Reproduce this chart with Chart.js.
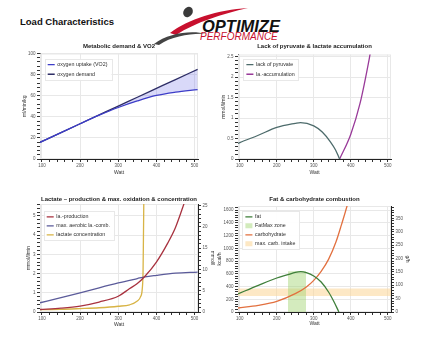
<!DOCTYPE html>
<html>
<head>
<meta charset="utf-8">
<script src="https://cdn.jsdelivr.net/npm/chart.js@4.4.0/dist/chart.umd.min.js"></script>
<style>
  body { margin: 0; background: #fff; width: 435px; height: 343px; overflow: hidden; position: relative; font-family: "Liberation Sans", Arial, sans-serif; }
  canvas { position: absolute; }
  #head { position: absolute; left: 20px; top: 16px; font-weight: bold; font-size: 9.5px; color: #111; }
  #logo { position: absolute; left: 150px; top: 0; }
</style>
</head>
<body>
<div id="head">Load Characteristics</div>
<svg id="logo" width="140" height="46" viewBox="0 0 140 46">
  <ellipse cx="38" cy="12" rx="4.5" ry="5.5" transform="rotate(35 38 12)" fill="#3a3a3a"/>
  <path d="M20,33 C38,19 68,10 98,8 C72,14 46,22 26,35 Z" fill="#c8102e"/>
  <path d="M4,44 C18,33 42,30 56,34 C42,33 22,36 9,45 Z" fill="#444"/>
  <text x="52" y="32" font-family="Liberation Sans" font-weight="bold" font-style="italic" font-size="16.5" fill="#111">OPTIMIZE</text>
  <text x="50" y="39.5" font-family="Liberation Sans" font-style="italic" font-size="10" fill="#c8102e">PERFORMANCE</text>
</svg>
<canvas id="c1" width="215" height="145" style="left:0;top:40px"></canvas>
<canvas id="c2" width="235" height="145" style="left:200px;top:40px"></canvas>
<canvas id="c3" width="225" height="145" style="left:0;top:190px"></canvas>
<canvas id="c4" width="235" height="145" style="left:200px;top:190px"></canvas>
<script>
// shared x range (Watt)
const wattRange = [95, 509];

// Metabolic demand & VO2
const vo2Watt = [95, 150, 200, 250, 300, 350, 400, 450, 508];
const vo2Uptake = [15.8, 25, 33.4, 41.5, 48.8, 55, 60.2, 63.3, 65.8];
const o2Demand = [15.8, 25, 33.4, 41.8, 50.2, 58.5, 66.9, 75.3, 85];

// Lack of pyruvate & lactate accumulation
const pyrWatt = [95, 100, 150, 200, 250, 264, 300, 323, 345, 359, 368, 370];
const pyrLack = [0.38, 0.4, 0.58, 0.77, 0.87, 0.89, 0.81, 0.66, 0.42, 0.22, 0.04, 0];
const accWatt = [370, 400, 425, 450, 456];
const laAccum = [0, 0.6, 1.35, 2.44, 2.75];

// Lactate production / combustion / concentration
const prodWatt = [95, 150, 200, 250, 300, 330, 350, 370, 400, 430, 450, 472, 485];
const laProduction = [0.13, 0.2, 0.31, 0.52, 0.82, 1.22, 1.48, 1.86, 2.6, 3.6, 4.4, 5.62, 6.4];
const combWatt = [95, 150, 200, 250, 300, 350, 370, 400, 450, 508];
const laCombustion = [0.48, 0.75, 1.0, 1.26, 1.51, 1.74, 1.83, 1.91, 2.02, 2.08];
const concWatt = [95, 150, 200, 250, 300, 330, 350, 358, 363, 365, 366, 367];
const laConcentration = [0.55, 0.63, 0.8, 1.0, 1.35, 1.7, 2.6, 3.5, 5.5, 9.4, 17, 26];

// Fat & carbohydrate combustion
const fatWatt = [95, 150, 200, 230, 250, 265, 280, 300, 320, 340, 355, 368];
const fatKcal = [285, 419, 534, 586, 623, 634, 618, 565, 471, 314, 157, 0];
const choWatt = [95, 150, 200, 250, 280, 300, 320, 340, 360, 375, 390, 398];
const choKcal = [63, 105, 168, 288, 393, 497, 639, 827, 1099, 1372, 1665, 1850];
const fatMaxZone = [230, 279];   // Watt
const fatMaxPeak = 640;          // kcal/h
const carbIntake = [60, 88];     // g/h

Chart.defaults.font.family = '"Liberation Sans", Arial, sans-serif';
Chart.defaults.animation = false;

const pts = (xs, ys) => xs.map((x, i) => ({ x: x, y: ys[i] }));
const isMul = (v, s) => Math.abs(v / s - Math.round(v / s)) < 1e-6;

function mkAxis(o) {
  return {
    type: "linear",
    position: o.pos,
    min: o.min,
    max: o.max,
    afterBuildTicks: (s) => { s.ticks = s.ticks.filter((t) => isMul(t.value, o.minor)); },
    afterFit: (s) => {
      if (s.isHorizontal()) s.height = o.size; else s.width = o.size;
    },
    border: { color: "#222", width: 1 },
    grid: {
      drawOnChartArea: o.grid !== false,
      color: (c) => (c.tick && isMul(c.tick.value, o.major) ? "#e8e8e8" : "rgba(0,0,0,0)"),
      tickColor: "#333",
      tickLength: 3,
    },
    ticks: {
      stepSize: o.minor,
      includeBounds: false,
      autoSkip: false,
      maxRotation: 0,
      maxTicksLimit: 1000,
      padding: 1.5,
      color: "#555",
      font: { size: 4.5 },
      callback: (v) => (isMul(v, o.major) ? String(+v.toFixed(2)) : ""),
    },
    title: { display: true, text: o.title, color: "#333", font: { size: 5 }, padding: o.tpad },
  };
}

// legend drawn inside the plot with a white panel behind it
const legendPanel = {
  id: "legendPanel",
  afterLayout(chart, args, opts) {
    const lg = chart.legend, a = chart.chartArea;
    lg.left = a.left + opts.dx;
    lg.top = a.top + opts.dy;
    lg.bottom = a.bottom;
  },
  afterDatasetsDraw(chart) {
    const boxes = chart.legend.legendHitBoxes;
    if (!boxes.length) return;
    const l = Math.min(...boxes.map((b) => b.left)) - 3;
    const t = Math.min(...boxes.map((b) => b.top)) - 3;
    const r = Math.max(...boxes.map((b) => b.left + b.width)) + 4;
    const b2 = Math.max(...boxes.map((b) => b.top + b.height)) + 3;
    const ctx = chart.ctx;
    ctx.save();
    ctx.fillStyle = "rgba(255,255,255,0.95)";
    ctx.strokeStyle = "#e8e8e8";
    ctx.lineWidth = 1;
    ctx.fillRect(l, t, r - l, b2 - t);
    ctx.strokeRect(Math.round(l) + 0.5, Math.round(t) + 0.5, Math.round(r - l), Math.round(b2 - t));
    ctx.restore();
    chart.legend.draw();
  },
};

const frame = {
  id: "frame",
  beforeDatasetsDraw(chart) {
    const a = chart.chartArea, c = chart.ctx;
    c.save();
    c.strokeStyle = "#e8e8e8";
    c.strokeRect(a.left + 0.5, a.top + 0.5, a.width - 1, a.height - 1);
    c.restore();
  },
};

function legendOpts(pad) {
  return {
    position: "chartArea",
    align: "start",
    labels: {
      usePointStyle: true,
      pointStyleWidth: 7,
      boxHeight: 5,
      padding: pad,
      color: "#333",
      font: { size: 5.3 },
      sort: (a, b) => a.datasetIndex - b.datasetIndex,
      filter: (it) => it.text !== "",
    },
  };
}

function titleOpts(text, top, bottom) {
  return {
    display: true, fullSize: false, text: text, color: "#222",
    font: { size: 6, weight: "bold" }, padding: { top: top, bottom: bottom },
  };
}

function lineDs(label, data, color, extra) {
  return Object.assign({
    label: label, data: data, borderColor: color, backgroundColor: color,
    borderWidth: 1.3, pointRadius: 0, pointStyle: "line", fill: false,
    cubicInterpolationMode: "monotone",
  }, extra || {});
}

// 1 - Metabolic demand & VO2
new Chart(document.getElementById("c1"), {
  type: "line",
  data: {
    datasets: [
      lineDs("oxygen uptake (VO2)", pts(vo2Watt, vo2Uptake), "#3d3dc8"),
      lineDs("oxygen demand", pts(vo2Watt, o2Demand), "#2e2e66", { fill: { target: 0 }, backgroundColor: "rgba(120,120,235,0.28)" }),
    ],
  },
  options: {
    responsive: false,
    layout: { padding: { top: 0, right: 17, left: 0, bottom: 0 } },
    scales: {
      x: mkAxis({ pos: "bottom", min: wattRange[0], max: wattRange[1], major: 100, minor: 20, size: 26, title: "Watt", tpad: { top: 0, bottom: 9 } }),
      y: mkAxis({ pos: "left", min: 0, max: 100, major: 20, minor: 4, size: 40, title: "ml/min/kg", tpad: { top: 22, bottom: 0 } }),
    },
    plugins: {
      title: titleOpts("Metabolic demand & VO2", 2.5, 3.8),
      legend: legendOpts(4.4),
      legendPanel: { dx: 3.3, dy: 4 },
      tooltip: { enabled: false },
    },
  },
  plugins: [legendPanel, frame],
});

// 2 - Lack of pyruvate & lactate accumulation
new Chart(document.getElementById("c2"), {
  type: "line",
  data: {
    datasets: [
      lineDs("lack of pyruvate", pts(pyrWatt, pyrLack), "#4d6b6b"),
      lineDs("la.-accumulation", pts(accWatt, laAccum), "#993a99"),
    ],
  },
  options: {
    responsive: false,
    layout: { padding: { top: 0, right: 44, left: 0, bottom: 0 } },
    scales: {
      x: mkAxis({ pos: "bottom", min: wattRange[0], max: wattRange[1], major: 100, minor: 20, size: 26, title: "Watt", tpad: { top: 0, bottom: 9 } }),
      y: mkAxis({ pos: "left", min: 0, max: 2.55, major: 0.5, minor: 0.1, size: 38, title: "mmol/l/min", tpad: { top: 21, bottom: 0 } }),
    },
    plugins: {
      title: titleOpts("Lack of pyruvate & lactate accumulation", 2.5, 4.8),
      legend: legendOpts(4.4),
      legendPanel: { dx: 4, dy: 3 },
      tooltip: { enabled: false },
    },
  },
  plugins: [legendPanel, frame],
});

// 3 - Lactate production & max. oxidation & concentration
new Chart(document.getElementById("c3"), {
  type: "line",
  data: {
    datasets: [
      lineDs("la.-production", pts(prodWatt, laProduction), "#a8323f"),
      lineDs("max. aerobic la.-comb.", pts(combWatt, laCombustion), "#5b5b9a"),
      lineDs("lactate concentration", pts(concWatt, laConcentration), "#d8b446", { yAxisID: "y2" }),
    ],
  },
  options: {
    responsive: false,
    layout: { padding: { top: 0, right: 0, left: 0, bottom: 0 } },
    scales: {
      x: mkAxis({ pos: "bottom", min: wattRange[0], max: wattRange[1], major: 100, minor: 20, size: 23, title: "Watt", tpad: { top: 0, bottom: 7 } }),
      y: mkAxis({ pos: "left", min: 0, max: 5.62, major: 1, minor: 0.2, size: 40, title: "mmol/l/min", tpad: { top: 26, bottom: 0 } }),
      y2: mkAxis({ pos: "right", min: 0, max: 25.4, major: 5, minor: 1, size: 27, grid: false, title: "mmol/l", tpad: { top: 9.7, bottom: 0 } }),
    },
    plugins: {
      title: titleOpts("Lactate \u2013 production & max. oxidation & concentration", 5.4, 1.4),
      legend: legendOpts(3.7),
      legendPanel: { dx: 3, dy: 6.5 },
      tooltip: { enabled: false },
    },
  },
  plugins: [legendPanel, frame],
});

// 4 - Fat & carbohydrate combustion
new Chart(document.getElementById("c4"), {
  type: "line",
  data: {
    datasets: [
      lineDs("fat", pts(fatWatt, fatKcal), "#3f7f3a", { order: 0 }),
      {
        label: "FatMax zone", order: 2,
        data: fatMaxZone.map((w) => ({ x: w, y: fatMaxPeak })),
        borderWidth: 0, borderColor: "rgba(0,0,0,0)", backgroundColor: "rgba(160,210,110,0.45)",
        pointRadius: 0, pointStyle: "rect", fill: "origin",
      },
      lineDs("carbohydrate", pts(choWatt, choKcal), "#e2703f", { order: 1 }),
      {
        label: "max. carb. intake", order: 3, yAxisID: "y2",
        data: wattRange.map((w) => ({ x: w, y: carbIntake[1] })),
        borderWidth: 0, borderColor: "rgba(0,0,0,0)", backgroundColor: "rgba(252,214,150,0.55)",
        pointRadius: 0, pointStyle: "rect", fill: "+1",
      },
      {
        label: "", order: 4, yAxisID: "y2",
        data: wattRange.map((w) => ({ x: w, y: carbIntake[0] })),
        borderWidth: 0, borderColor: "rgba(0,0,0,0)", pointRadius: 0, fill: false,
      },
    ],
  },
  options: {
    responsive: false,
    layout: { padding: { top: 0, right: 14, left: 0, bottom: 0 } },
    scales: {
      x: mkAxis({ pos: "bottom", min: wattRange[0], max: wattRange[1], major: 100, minor: 20, size: 23, title: "Watt", tpad: { top: 0, bottom: 8 } }),
      y: mkAxis({ pos: "left", min: 0, max: 1665, major: 200, minor: 40, size: 38, title: "kcal/h", tpad: { top: 17, bottom: 0 } }),
      y2: mkAxis({ pos: "right", min: 0, max: 396, major: 50, minor: 10, size: 30, grid: false, title: "g/h", tpad: { top: 11, bottom: 0 } }),
    },
    plugins: {
      title: titleOpts("Fat & carbohydrate combustion", 5.4, 3.4),
      legend: legendOpts(3.7),
      legendPanel: { dx: 3.7, dy: 4.5 },
      tooltip: { enabled: false },
    },
  },
  plugins: [legendPanel, frame],
});
</script>
</body>
</html>
